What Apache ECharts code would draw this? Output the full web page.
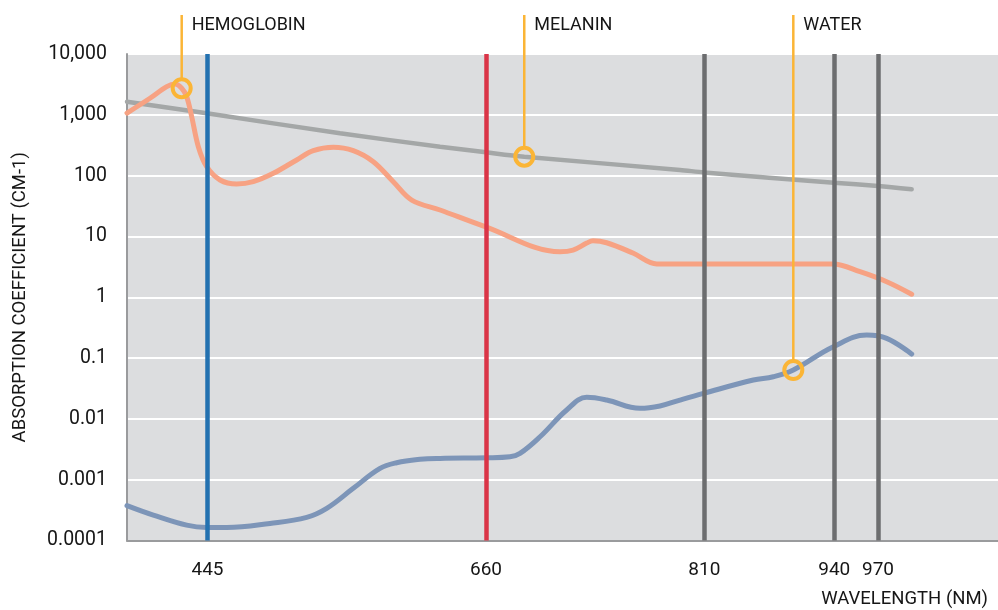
<!DOCTYPE html>
<html>
<head>
<meta charset="utf-8">
<title>Absorption coefficient by wavelength</title>
<script src="https://cdn.jsdelivr.net/npm/echarts@6/dist/echarts.min.js"></script>
<style>
  html, body { margin: 0; padding: 0; background: #ffffff; }
  #chart { width: 998px; height: 610px; }
</style>
</head>
<body>
<div id="chart"></div>
<script>
// The wavelength axis is schematic: x values are positions on a 0-100 scale,
// and the tick labels carry the actual wavelengths (nm).
const xTickPos = [9.24, 41.22, 66.28, 81.2, 86.22];
const xTickLabels = ['445', '660', '810', '940', '970'];

const yTickLabels = ['0.0001', '0.001', '0.01', '0.1', '1', '10', '100', '1,000', '10,000'];

// Marked wavelengths (vertical bars), same positions as the ticks
const bandPos = [9.24, 41.22, 66.28, 81.2, 86.22];
const bandColors = ['#2371b0', '#da3447', '#6c6d6f', '#6c6d6f', '#6c6d6f'];

// Absorption spectra: [position, coefficient cm-1]
const hemoglobin = [
  [0, 1070], [2.64, 1870], [4.56, 2900], [5.51, 3210], [6.28, 2730], [6.85, 1990],
  [7.43, 931], [8.19, 299], [9.15, 140], [10.68, 84.7], [12.59, 72.8], [14.5, 79.4],
  [16.8, 109], [19.48, 181], [21.39, 257], [23.69, 292], [25.98, 257], [28.28, 169],
  [30.57, 79.4], [32.69, 39.7], [35.94, 27.2], [41.1, 14.5], [49.71, 5.6], [51.21, 5.97],
  [52.78, 7.78], [53.5, 8.49], [55.07, 7.87], [58.09, 5.33], [60.82, 3.52], [63.49, 3.52],
  [72, 3.52], [81.06, 3.52], [84.16, 2.63], [87.22, 1.8], [90.09, 1.12]
];

const melanin = [
  [0, 1640], [9.15, 1059], [24.45, 497], [35.94, 299], [41.22, 242], [45.61, 205],
  [63.49, 124], [66.25, 113], [81.17, 76.4], [86.22, 67.5], [90.09, 59.6]
];

const water = [
  [0, 0.000375], [3.02, 0.000262], [6.85, 0.000179], [9.15, 0.000164], [11.45, 0.000164],
  [16.42, 0.000191], [20.63, 0.00024], [22.93, 0.000337], [25.98, 0.00072], [29.05, 0.00153],
  [30.96, 0.0019], [33.64, 0.00216], [35.94, 0.00224], [41.3, 0.00229], [43.97, 0.00238],
  [45.12, 0.00271], [47.42, 0.00508], [50.48, 0.014], [52.78, 0.0226], [55.07, 0.0204],
  [58.9, 0.0149], [61.19, 0.0163], [63.49, 0.0204], [66.17, 0.0262], [71.91, 0.0435],
  [74.2, 0.0492], [76.5, 0.0636], [81.09, 0.1535], [84.92, 0.239], [87.22, 0.211],
  [90.09, 0.1164]
];

// Callouts sit on a point of each curve
const calloutNames = ['HEMOGLOBIN', 'MELANIN', 'WATER'];
const calloutPoints = [hemoglobin[4], melanin[5], water[26]];

const FONT = 'Roboto, "Open Sans", sans-serif';
const TEXT_COLOR = '#161616';
const ORANGE = '#fbb536';

const chart = echarts.init(document.getElementById('chart'), null, { renderer: 'canvas' });

function nearestLabel(v) {
  let best = 0;
  for (let i = 1; i < xTickPos.length; i++) {
    if (Math.abs(xTickPos[i] - v) < Math.abs(xTickPos[best] - v)) best = i;
  }
  return xTickLabels[best];
}

const bandLines = bandPos.map((p, i) => ({
  xAxis: p,
  lineStyle: { color: bandColors[i], width: 4.5, type: 'solid' }
}));

const option = {
  animation: false,
  backgroundColor: '#ffffff',
  textStyle: { fontFamily: FONT },
  grid: {
    left: 127, right: 0, top: 54, bottom: 69.5,
    outerBoundsMode: 'none', containLabel: false,
    show: true, backgroundColor: '#dcdddf', borderWidth: 0, z: 0
  },
  xAxis: {
    type: 'value', min: 0, max: 100, z: 2,
    axisLine: { show: true, onZero: false, lineStyle: { color: '#9a9b9d', width: 2 } },
    axisTick: { show: false },
    splitLine: { show: false },
    axisLabel: {
      customValues: xTickPos,
      formatter: (v) => nearestLabel(v),
      margin: 20, fontSize: 19, color: TEXT_COLOR, fontFamily: FONT
    }
  },
  yAxis: {
    type: 'log', logBase: 10, min: 0.0001, max: 10000, splitNumber: 8, z: 2,
    name: 'ABSORPTION COEFFICIENT (CM-1)',
    nameLocation: 'middle', nameGap: 97,
    nameTextStyle: { fontSize: 18.5, color: TEXT_COLOR, fontFamily: FONT },
    axisLine: { show: true, onZero: false, lineStyle: { color: '#9a9b9d', width: 2 } },
    axisTick: { show: false },
    splitLine: { show: true, lineStyle: { color: '#ffffff', width: 2 } },
    axisLabel: {
      formatter: (v) => yTickLabels[Math.round(Math.log10(v)) + 4],
      margin: 20, fontSize: 19.5, color: TEXT_COLOR, fontFamily: FONT
    }
  },
  graphic: [{
    type: 'text', right: 10, top: 590,
    style: { text: 'WAVELENGTH (NM)', font: '18.5px ' + FONT, fill: TEXT_COLOR }
  }],
  series: [
    {
      name: 'bands', type: 'line', data: [], z: 1, silent: true,
      markLine: {
        silent: true, symbol: ['none', 'none'], label: { show: false },
        animation: false, data: bandLines
      }
    },
    {
      name: 'Melanin', type: 'line', data: melanin, z: 3,
      showSymbol: false, smooth: 0.3, silent: true,
      lineStyle: { color: '#a4a7a7', width: 4.5, cap: 'round' }
    },
    {
      name: 'Hemoglobin', type: 'line', data: hemoglobin, z: 3,
      showSymbol: false, smooth: 0.35, silent: true,
      lineStyle: { color: '#f7a283', width: 5, cap: 'round', join: 'round' }
    },
    {
      name: 'Water', type: 'line', data: water, z: 3,
      showSymbol: false, smooth: 0.4, silent: true,
      lineStyle: { color: '#7d95b8', width: 5, cap: 'round', join: 'round' }
    },
    {
      name: 'callouts', type: 'custom', z: 4, silent: true, clip: false,
      data: calloutPoints,
      renderItem: (params, api) => {
        const pt = api.coord([api.value(0), api.value(1)]);
        const r = 9;
        return {
          type: 'group',
          children: [
            { type: 'line', shape: { x1: pt[0], y1: 15, x2: pt[0], y2: pt[1] - r },
              style: { stroke: ORANGE, lineWidth: 2.5 } },
            { type: 'circle', shape: { cx: pt[0], cy: pt[1], r: r },
              style: { fill: 'none', stroke: ORANGE, lineWidth: 4 } },
            { type: 'text', x: pt[0] + 10, y: 25,
              style: { text: calloutNames[params.dataIndex], font: '18px ' + FONT,
                       fill: TEXT_COLOR, verticalAlign: 'middle', align: 'left' } }
          ]
        };
      }
    }
  ]
};

chart.setOption(option);
</script>
</body>
</html>
